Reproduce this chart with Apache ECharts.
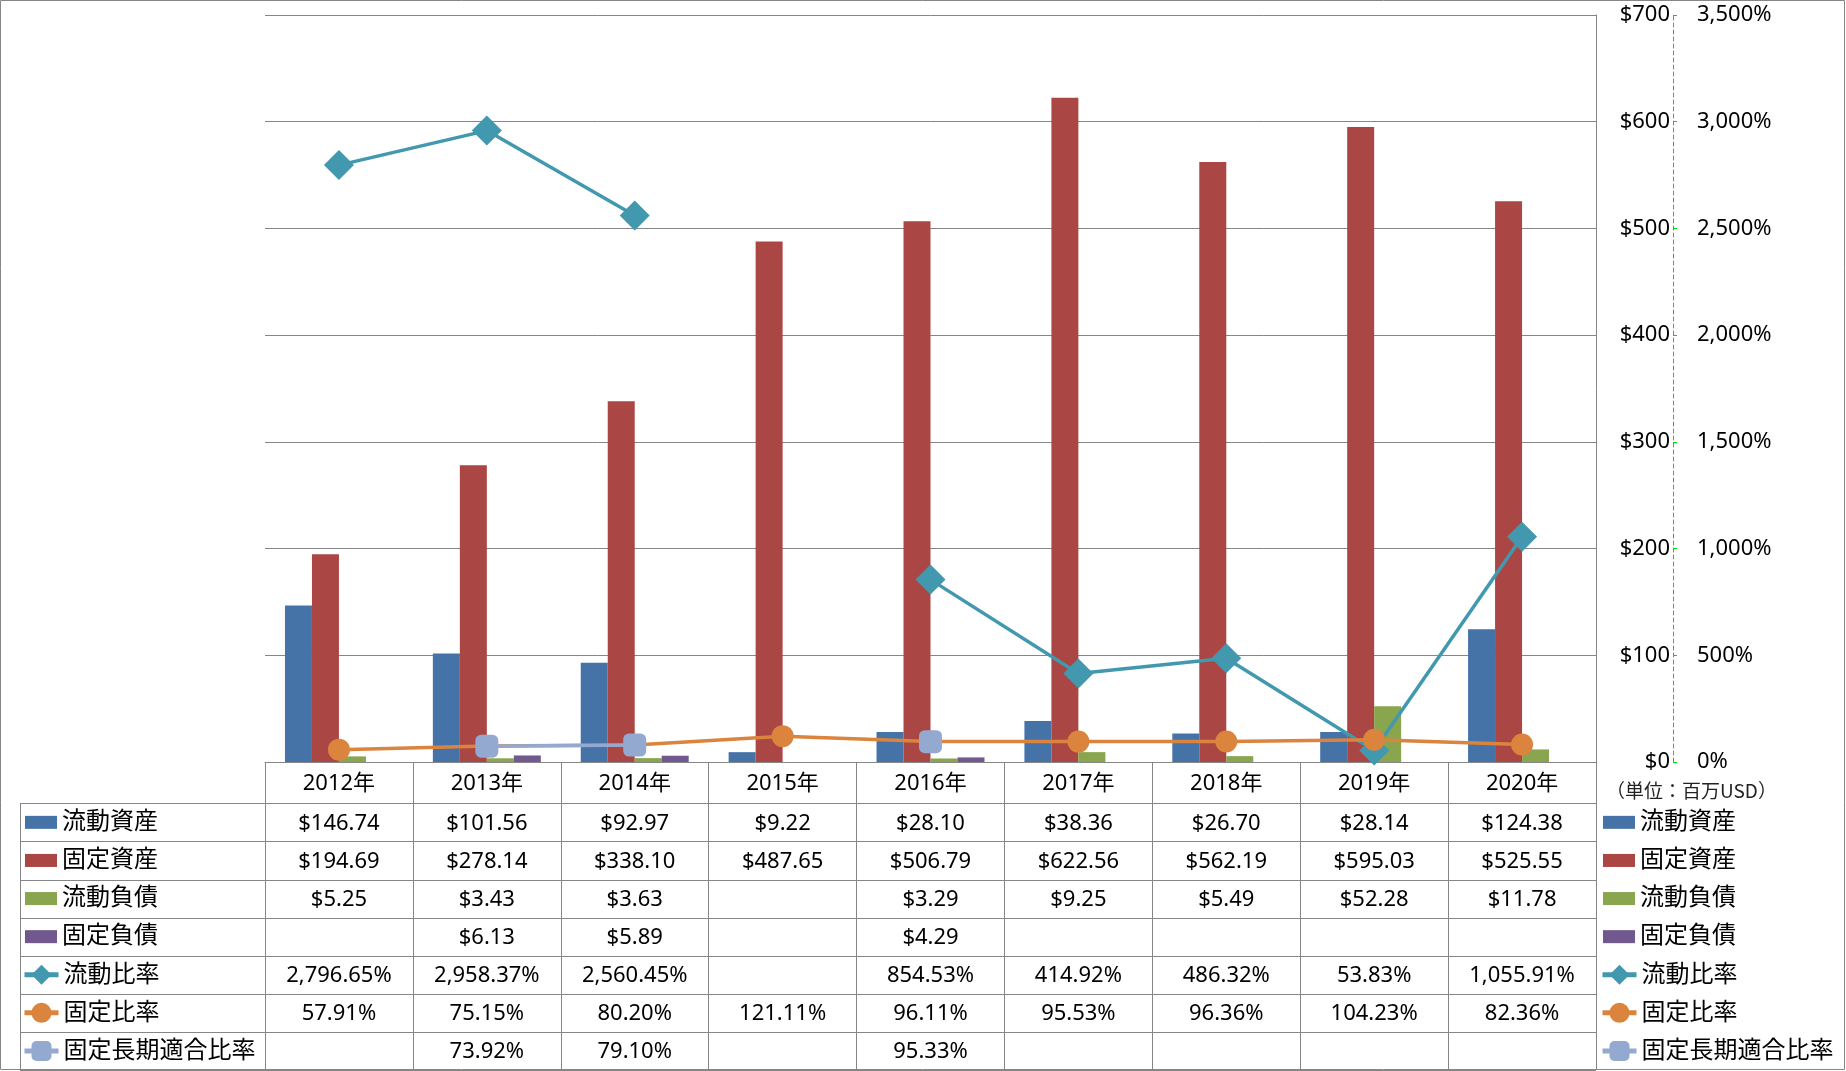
<!DOCTYPE html>
<html><head><meta charset="utf-8">
<script src="https://cdn.jsdelivr.net/npm/echarts@6/dist/echarts.min.js"></script>
<style>html,body{margin:0;padding:0;background:#fff}#c{width:1846px;height:1071px}</style>
</head><body><div id="c"></div>
<script>
// ---- data ----
const categories = ['2012年','2013年','2014年','2015年','2016年','2017年','2018年','2019年','2020年'];
const currentAssets      = [146.74, 101.56, 92.97, 9.22, 28.10, 38.36, 26.70, 28.14, 124.38];
const fixedAssets        = [194.69, 278.14, 338.10, 487.65, 506.79, 622.56, 562.19, 595.03, 525.55];
const currentLiabilities = [5.25, 3.43, 3.63, null, 3.29, 9.25, 5.49, 52.28, 11.78];
const fixedLiabilities   = [null, 6.13, 5.89, null, 4.29, null, null, null, null];
const currentRatio       = [2796.65, 2958.37, 2560.45, null, 854.53, 414.92, 486.32, 53.83, 1055.91];
const fixedRatio         = [57.91, 75.15, 80.20, 121.11, 96.11, 95.53, 96.36, 104.23, 82.36];
const fixedLongTermRatio = [null, 73.92, 79.10, null, 95.33, null, null, null, null];
const usdTicks = [0, 100, 200, 300, 400, 500, 600, 700];
const pctTicks = [0, 500, 1000, 1500, 2000, 2500, 3000, 3500];
const unitLabel = '（単位：百万USD）';

// ---- helpers ----
const FONT = "'Noto Sans', 'Noto Sans CJK JP', sans-serif";
const fmtUsd = v => '$' + v.toFixed(2);
const fmtPct = v => v.toLocaleString('en-US', {minimumFractionDigits: 2, maximumFractionDigits: 2}) + '%';
const C = {blue:'#4572A7', red:'#AA4643', green:'#89A54E', purple:'#71588F', teal:'#4198AF', orange:'#DB843D', lblue:'#93A9CF', grid:'#868686'};

const barNames = ['流動資産','固定資産','流動負債','固定負債'];
const lineNames = ['流動比率','固定比率','固定長期適合比率'];
const tableRows = [
  {vals: currentAssets, fmt: fmtUsd},
  {vals: fixedAssets, fmt: fmtUsd},
  {vals: currentLiabilities, fmt: fmtUsd},
  {vals: fixedLiabilities, fmt: fmtUsd},
  {vals: currentRatio, fmt: fmtPct},
  {vals: fixedRatio, fmt: fmtPct},
  {vals: fixedLongTermRatio, fmt: fmtPct}
];

// layout
const GL = 265, GR = 1596, AXY = 762;
const HEAD_H = 41.3, ROW_H = 38.1;
const headBottom = AXY + HEAD_H;

const chart = echarts.init(document.getElementById('c'), null, {renderer: 'canvas'});

const tableLines = [];
for (let k = 0; k <= tableRows.length; k++) {
  const y = Math.round(headBottom + k * ROW_H) + 0.5;
  tableLines.push({type:'line', shape:{x1:20, y1:y, x2:GR, y2:y}, style:{stroke:C.grid, lineWidth:1}, silent:true});
}
tableLines.push({type:'line', shape:{x1:20.5, y1:Math.round(headBottom)+0.5, x2:20.5, y2:1070}, style:{stroke:C.grid, lineWidth:1}, silent:true});

function barSeries(name, data, color) {
  return {name, type:'bar', yAxisIndex:0, data, barGap:'0%', barCategoryGap:'27%',
    itemStyle:{color}, emphasis:{disabled:true}};
}
function lineSeries(name, data, color, symbol, size) {
  return {name, type:'line', yAxisIndex:1, data, symbol, symbolSize:size, showSymbol:true, showAllSymbol:true,
    lineStyle:{color, width:3.5}, itemStyle:{color}, emphasis:{disabled:true}, connectNulls:false, z:3};
}

const legendBase = {orient:'vertical', padding:0, itemGap:0, selectedMode:false,
  textStyle:{fontFamily:FONT, fontSize:24, color:'#000', lineHeight:ROW_H}};

chart.setOption({
  animation:false,
  backgroundColor:'#fff',
  textStyle:{fontFamily:FONT},
  grid:{left:GL, right:1846-GR, top:15, bottom:1071-AXY, containLabel:false},
  xAxis:{
    type:'category', data:categories, position:'bottom', boundaryGap:true,
    axisLine:{show:true, lineStyle:{color:C.grid, width:1}},
    axisTick:{show:true, interval:0, length:1070-AXY, lineStyle:{color:C.grid, width:1}},
    splitLine:{show:false},
    axisLabel:{
      interval:0, margin:2, verticalAlign:'top', color:'#000',
      formatter:(val, idx) => {
        const lines = ['{h|' + val + '}'];
        tableRows.forEach(r => {
          const v = r.vals[idx];
          lines.push('{v|' + (v == null ? '\u00a0' : r.fmt(v)) + '}');
        });
        return lines.join('\n');
      },
      rich:{
        h:{fontFamily:FONT, fontSize:22, lineHeight:HEAD_H - 1, align:'center', color:'#000'},
        v:{fontFamily:FONT, fontSize:22, lineHeight:ROW_H, align:'center', color:'#000'}
      }
    }
  },
  yAxis:[
    {type:'value', position:'right', min:usdTicks[0], max:usdTicks[usdTicks.length-1], interval:usdTicks[1]-usdTicks[0],
      axisLine:{show:true, lineStyle:{color:C.grid, width:1}},
      axisTick:{show:false},
      splitLine:{show:true, lineStyle:{color:C.grid, width:1}},
      axisLabel:{align:'right', margin:74, fontSize:22, color:'#000', fontFamily:FONT, formatter:v => '$' + v}
    },
    {type:'value', position:'right', offset:77, min:pctTicks[0], max:pctTicks[pctTicks.length-1], interval:pctTicks[1]-pctTicks[0],
      axisLine:{show:true, lineStyle:{color:'#00DD00', width:1, type:[4,3]}},
      axisTick:{show:true, length:4, lineStyle:{color:'#00DD00', width:1}},
      splitLine:{show:false},
      axisLabel:{margin:24, fontSize:22, color:'#000', fontFamily:FONT, formatter:v => v.toLocaleString('en-US') + '%'}
    }
  ],
  legend:[
    Object.assign({}, legendBase, {left:25, top:headBottom, itemWidth:32, itemHeight:13, icon:'rect', data:barNames}),
    Object.assign({}, legendBase, {left:22, top:headBottom + 4*ROW_H, itemWidth:34, itemHeight:25, lineStyle:{width:5}, data:lineNames}),
    Object.assign({}, legendBase, {left:1603, top:headBottom, itemWidth:32, itemHeight:13, icon:'rect', data:barNames}),
    Object.assign({}, legendBase, {left:1600, top:headBottom + 4*ROW_H, itemWidth:34, itemHeight:25, lineStyle:{width:5}, data:lineNames})
  ],
  series:[
    barSeries(barNames[0], currentAssets, C.blue),
    barSeries(barNames[1], fixedAssets, C.red),
    barSeries(barNames[2], currentLiabilities, C.green),
    barSeries(barNames[3], fixedLiabilities, C.purple),
    lineSeries(lineNames[0], currentRatio, C.teal, 'diamond', 30),
    lineSeries(lineNames[1], fixedRatio, C.orange, 'circle', 22),
    lineSeries(lineNames[2], fixedLongTermRatio, C.lblue, 'roundRect', 23)
  ],
  graphic:[
    {type:'rect', shape:{x:0.5, y:0.5, width:1844, height:1069}, style:{fill:'none', stroke:C.grid, lineWidth:1}, silent:true, z:-1},
    {type:'text', left:1606, top:781, style:{text:unitLabel, fontFamily:"'Noto Sans CJK JP', sans-serif", fontSize:19, fill:'#222'}, silent:true}
  ].concat(tableLines)
});
</script>
</body></html>
